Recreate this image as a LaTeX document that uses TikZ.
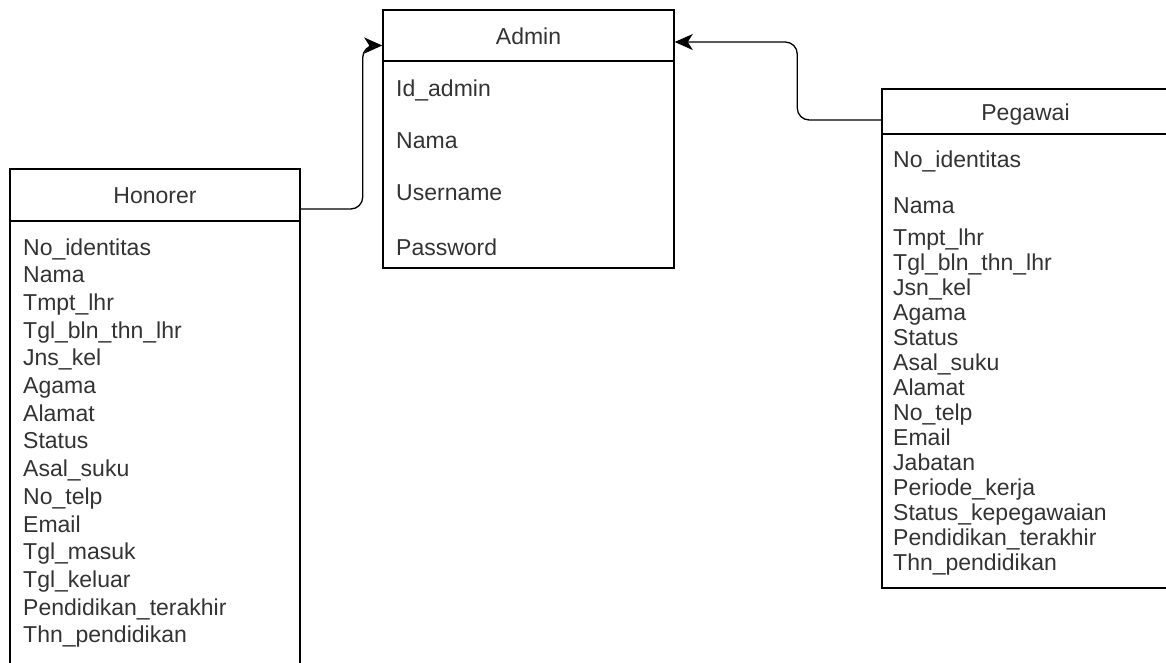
\documentclass[tikz,border=0pt]{standalone}
\usepackage{fontspec}
\setmainfont{Liberation Sans}
\usetikzlibrary{arrows.meta,positioning}
\definecolor{txtgray}{HTML}{333333}

\begin{document}
\begin{tikzpicture}[x=1pt,y=-1pt]
\tikzset{entity/.style = {shape=rectangle,draw,line width=1.5pt,inner sep=0pt}}
\tikzset{title/.style = {font=\fontsize{23}{27}\selectfont,text=txtgray,text height=17pt,text depth=0pt}}
\tikzset{field/.style = {anchor=base west,inner sep=0pt,font=\fontsize{23}{27}\selectfont,text=txtgray}}
\tikzset{edge/.style = {-{Stealth[length=18pt,width=16pt,inset=5pt]},line width=1.3pt,rounded corners=12pt}}
\useasboundingbox (0,0) rectangle (1166,662);
\clip (0,0) rectangle (1166,662);
% NODES
\node[entity,title,minimum width=291pt,minimum height=51pt] (adminHead) at (528.5,35.5) {Admin};
\node[entity,minimum width=291pt,minimum height=207pt] (adminBody) at (528.5,164.5) {};
\node[entity,title,minimum width=290pt,minimum height=52pt] (honorerHead) at (155,195) {Honorer};
\node[entity,minimum width=290pt,minimum height=479pt] (honorerBody) at (155,460.5) {};
\node[entity,title,minimum width=287pt,minimum height=45pt] (pegawaiHead) at (1025.5,111.5) {Pegawai};
\node[entity,minimum width=287pt,minimum height=454pt] (pegawaiBody) at (1025.5,361) {};
% FIELDS
\foreach \f/\y in {Id\_admin/88,Nama/140,Username/192,Password/247}
  \node[field] (adm-\y) at (396,\y+8) {\f};
\foreach \f [count=\i from 0] in {No\_identitas,Nama,Tmpt\_lhr,Tgl\_bln\_thn\_lhr,Jns\_kel,Agama,Alamat,Status,Asal\_suku,No\_telp,Email,Tgl\_masuk,Tgl\_keluar,Pendidikan\_terakhir,Thn\_pendidikan}
  \node[field] (hon-\i) at (23,247+27.7*\i+8) {\f};
\node[field] (peg-a) at (893,159+8) {No\_identitas};
\node[field] (peg-b) at (893,205+8) {Nama};
\foreach \f [count=\i from 0] in {Tmpt\_lhr,Tgl\_bln\_thn\_lhr,Jsn\_kel,Agama,Status,Asal\_suku,Alamat,No\_telp,Email,Jabatan,Periode\_kerja,Status\_kepegawaian,Pendidikan\_terakhir,Thn\_pendidikan}
  \node[field] (peg-\i) at (893,237+25*\i+8) {\f};
% EDGES
\draw[edge] ([yshift=-14pt]honorerHead.east) -- ++(62,0) |- ([yshift=-10pt]adminHead.west);
\draw[edge] ([yshift=-8.5pt]pegawaiHead.west) -- ++(-84,0) |- ([yshift=-6.5pt]adminHead.east);
\end{tikzpicture}
\end{document}
